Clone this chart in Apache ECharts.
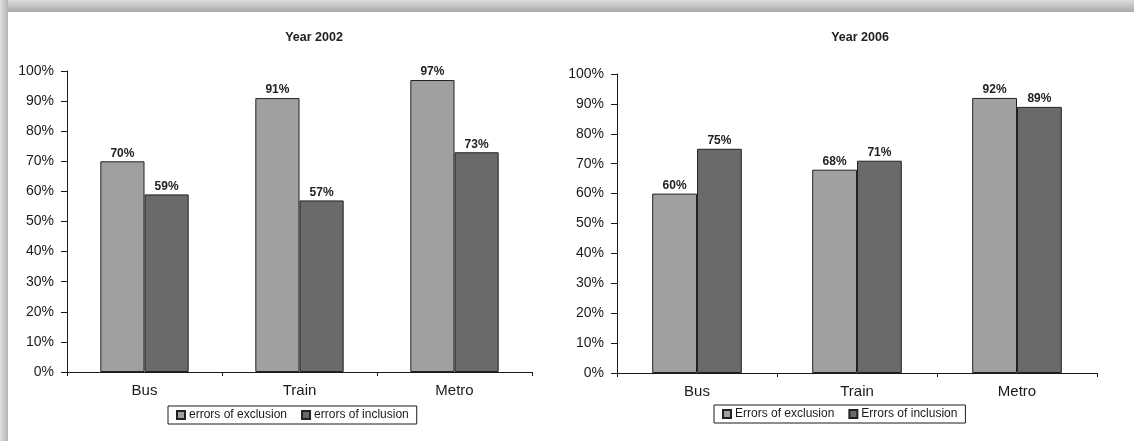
<!DOCTYPE html>
<html>
<head>
<meta charset="utf-8">
<title>Errors of exclusion and inclusion by mode, 2002 and 2006</title>
<script src="https://cdn.jsdelivr.net/npm/echarts@6/dist/echarts.min.js"></script>
<style>
  html, body { margin: 0; padding: 0; background: #fff; }
  #chart { width: 1134px; height: 441px; }
</style>
</head>
<body>
<div id="chart"></div>
<script>
// Transport modes shown on both panels
const modes = ['Bus', 'Train', 'Metro'];

// Year 2002 (%)
const exclusion2002 = [70, 91, 97];
const inclusion2002 = [59, 57, 73];

// Year 2006 (%)
const exclusion2006 = [60, 68, 92];
const inclusion2006 = [75, 71, 89];

const panelTitles = ['Year 2002', 'Year 2006'];
const names2002 = ['errors of exclusion', 'errors of inclusion'];
const names2006 = ['Errors of exclusion', 'Errors of inclusion'];

const FONT = '"Liberation Sans", Arial, sans-serif';
const LIGHT = '#a0a0a0';
const DARK = '#6a6a6a';
const INK = '#1a1a1a';

function yAxis(gridIndex) {
  return {
    type: 'value', gridIndex, min: 0, max: 100, interval: 10,
    splitLine: { show: false },
    axisLine: { show: true, lineStyle: { color: INK, width: 1 } },
    axisTick: { show: true, length: 6, lineStyle: { color: INK } },
    axisLabel: { formatter: '{value}%', color: INK, fontFamily: FONT, fontSize: 14, margin: 13 }
  };
}

function xAxis(gridIndex) {
  return {
    type: 'category', gridIndex, data: modes, boundaryGap: true,
    axisLine: { show: true, lineStyle: { color: INK, width: 1 } },
    axisTick: { show: true, interval: 0, length: 4, lineStyle: { color: INK } },
    axisLabel: { color: INK, fontFamily: FONT, fontSize: 15, margin: 11 }
  };
}

function barSeries(name, data, idx, color, gap) {
  return {
    type: 'bar', name, data, xAxisIndex: idx, yAxisIndex: idx,
    barGap: '0%', barCategoryGap: gap,
    itemStyle: { color, borderColor: '#222', borderWidth: 1 },
    label: {
      show: true, position: 'top', distance: 2, formatter: '{c}%',
      color: '#222', fontFamily: FONT, fontSize: 12, fontWeight: 'bold'
    }
  };
}

function legend(names, left, top) {
  return {
    data: names, left, top, orient: 'horizontal',
    icon: 'rect', itemWidth: 8, itemHeight: 8, itemGap: 14,
    borderColor: INK, borderWidth: 1, padding: [3, 8],
    textStyle: { color: INK, fontFamily: FONT, fontSize: 12, padding: [0, 0, 0, -1] }
  };
}

const chart = echarts.init(document.getElementById('chart'), null, { renderer: 'canvas' });

chart.setOption({
  animation: false,
  backgroundColor: '#fff',
  graphic: [
    {
      type: 'rect', left: 0, top: 0, z: -1,
      shape: { width: 1134, height: 12 },
      style: {
        fill: new echarts.graphic.LinearGradient(0, 0, 0, 1, [
          { offset: 0, color: '#dcdcdc' },
          { offset: 1, color: '#a9a9a9' }
        ])
      }
    },
    {
      type: 'rect', left: 0, top: 0, z: -1,
      shape: { width: 8, height: 441 },
      style: {
        fill: new echarts.graphic.LinearGradient(0, 0, 1, 0, [
          { offset: 0, color: '#dedede' },
          { offset: 1, color: '#b4b4b4' }
        ])
      }
    }
  ],
  title: [
    {
      text: panelTitles[0], left: 309, top: 26, textAlign: 'center',
      textStyle: { fontFamily: FONT, fontSize: 12.5, fontWeight: 'bold', color: '#222' }
    },
    {
      text: panelTitles[1], left: 855, top: 26, textAlign: 'center',
      textStyle: { fontFamily: FONT, fontSize: 12.5, fontWeight: 'bold', color: '#222' }
    }
  ],
  legend: [
    legend(names2002, 168, 406),
    legend(names2006, 714, 405)
  ],
  grid: [
    { left: 67, right: 602, top: 71, bottom: 69 },
    { left: 617, right: 37, top: 74, bottom: 68 }
  ],
  xAxis: [xAxis(0), xAxis(1)],
  yAxis: [yAxis(0), yAxis(1)],
  series: [
    barSeries(names2002[0], exclusion2002, 0, LIGHT, '43%'),
    barSeries(names2002[1], inclusion2002, 0, DARK, '43%'),
    barSeries(names2006[0], exclusion2006, 1, LIGHT, '44%'),
    barSeries(names2006[1], inclusion2006, 1, DARK, '44%')
  ]
});
</script>
</body>
</html>
